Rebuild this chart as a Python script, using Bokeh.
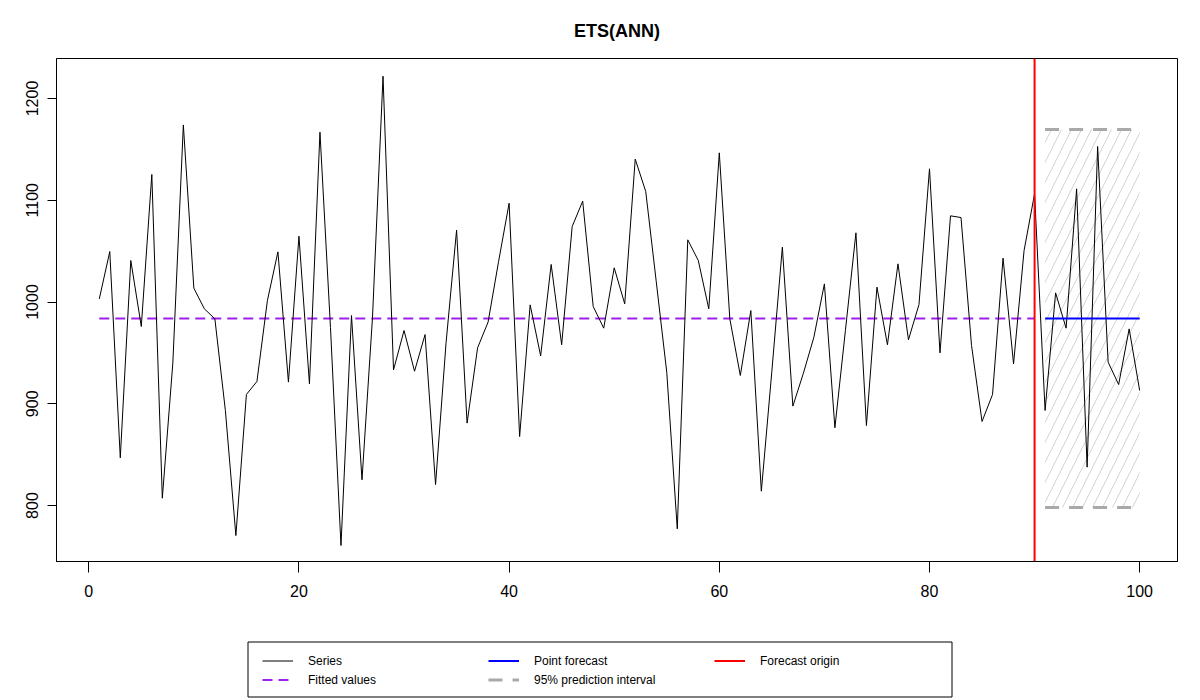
from bokeh.plotting import figure
from bokeh.layouts import column
from bokeh.models import Range1d, Legend, LegendItem, FixedTicker, Title
from bokeh.embed import file_html
from bokeh.resources import INLINE

# ---------------- data ----------------
series = [1003, 1049.6, 846.9, 1040.8, 975.9, 1125.3, 807.2, 940, 1174, 1013.6,
          993.3, 983.5, 893.4, 770.5, 909.1, 921.9, 1001.5, 1049.3, 921.3, 1064.7,
          919.6, 1166.9, 975, 760.7, 986.7, 825.3, 985, 1221.9, 933.3, 972,
          932, 968, 820.6, 960, 1070.6, 881, 955, 980.3, 1040, 1097.1,
          867.8, 997.2, 947.1, 1036.9, 958, 1074.2, 1099.1, 995.6, 974.3, 1033.6,
          998.2, 1140.4, 1108.6, 1020, 931, 777.1, 1061.1, 1040.8, 993.3, 1146.6,
          983.5, 927.8, 991.6, 814.1, 932, 1053.9, 897.7, 930, 965.4, 1017.8,
          876.4, 972, 1068, 878.6, 1014.6, 958, 1037.5, 962.9, 997.5, 1130.9,
          950, 1084.7, 1083, 957.3, 882.6, 909.1, 1043.1, 939.3, 1050.6, 1106.3,
          893.4, 1009, 974.3, 1111.2, 837.7, 1152.8, 940.9, 918.9, 973.6, 913]
fitted_level = 983.8
forecast_level = 983.8
upper_level = 1169.5
lower_level = 798.0
origin = 90
horizon = 10
x_ticks = [0, 20, 40, 60, 80, 100]
y_ticks = [800, 900, 1000, 1100, 1200]
legend_labels = ["Series", "Fitted values", "Point forecast",
                 "95% prediction interval", "Forecast origin"]

t = list(range(1, len(series) + 1))
t_fit = t[:origin]
fitted = [fitted_level] * len(t_fit)
t_fc = t[origin:origin + horizon]
fc = [forecast_level] * len(t_fc)
upper = [upper_level] * len(t_fc)
lower = [lower_level] * len(t_fc)

FONT = "Liberation Sans"
W = 1192
H_MAIN = 636
H_LEG = 62
FRAME_L, FRAME_R = 56, 1177   # frame edges shared by both stacked figures

# styles
ST_SERIES = dict(line_color="black", line_width=1)
ST_FIT = dict(line_color="#A020F0", line_width=2, line_dash="10 6")
ST_FC = dict(line_color="#0000FF", line_width=2)
ST_PI = dict(line_color="#A9A9A9", line_width=3, line_dash="14 10")
ST_ORIG = dict(line_color="#FF0000", line_width=2)

p = figure(width=W, height=H_MAIN,
           x_range=Range1d(-3.07, 103.6), y_range=Range1d(745, 1239.3),
           output_backend="svg", toolbar_location=None,
           min_border_left=FRAME_L, min_border_right=W - FRAME_R,
           min_border_top=58, min_border_bottom=75)
p.background_fill_color = "white"
p.border_fill_color = "white"
p.grid.visible = False
p.outline_line_color = "black"
p.outline_line_width = 1

p.title = Title(text="ETS(ANN)", align="center", text_font=FONT, text_color="black",
                text_font_size="18px", text_font_style="bold", standoff=36)

p.xaxis.ticker = FixedTicker(ticks=x_ticks)
p.yaxis.ticker = FixedTicker(ticks=y_ticks)
for ax in (p.xaxis[0], p.yaxis[0]):
    ax.axis_line_color = "black"
    ax.major_tick_line_color = "black"
    ax.minor_tick_line_color = None
    ax.major_tick_in = 0
    ax.major_label_text_font = FONT
    ax.major_label_text_font_size = "16px"
    ax.major_label_text_color = "black"
p.xaxis.major_tick_out = 11
p.yaxis.major_tick_out = 9
p.xaxis.major_label_standoff = 12
p.yaxis.major_label_standoff = 9
p.yaxis.major_label_orientation = "vertical"

p.varea(x=t_fc, y1=lower, y2=upper, fill_color=None, fill_alpha=0,
        hatch_pattern="/", hatch_color="#d3d3d3", hatch_scale=20, hatch_weight=1)
p.line(t_fit, fitted, **ST_FIT)
p.line(t, series, **ST_SERIES)
p.line(t_fc, fc, **ST_FC)
p.line(t_fc, upper, **ST_PI)
p.line(t_fc, lower, **ST_PI)
p.line([origin, origin], [p.y_range.start, p.y_range.end], **ST_ORIG)

# ---------------- legend strip (x in page pixels) ----------------
lf = figure(width=W, height=H_LEG, x_range=Range1d(FRAME_L, FRAME_R),
            y_range=Range1d(0, H_LEG),
            output_backend="svg", toolbar_location=None,
            x_axis_type=None, y_axis_type=None,
            min_border_left=FRAME_L, min_border_right=W - FRAME_R,
            min_border_top=0, min_border_bottom=0)
lf.grid.visible = False
lf.outline_line_color = None
lf.background_fill_color = "white"
lf.border_fill_color = "white"
lf.quad(left=[247.5], right=[951.5], bottom=[1.5], top=[56.5],
        fill_color=None, line_color="black", line_width=1)

nan = float("nan")
dummy = [lf.line([nan, nan], [nan, nan], **st)
         for st in (ST_SERIES, ST_FIT, ST_FC, ST_PI, ST_ORIG)]
legend = Legend(items=[LegendItem(label=lab, renderers=[r])
                       for lab, r in zip(legend_labels, dummy)],
                location=(262 - FRAME_L, 9), orientation="vertical", nrows=2,
                label_text_font=FONT, label_text_font_size="12px",
                label_text_color="black",
                glyph_width=31, glyph_height=19, label_height=19, label_width=180,
                label_standoff=15, spacing=0, padding=0, margin=0,
                border_line_color=None, background_fill_alpha=0)
lf.add_layout(legend, "center")

layout = column(p, lf, spacing=0)
open("out.html", "w").write(file_html(layout, INLINE))
